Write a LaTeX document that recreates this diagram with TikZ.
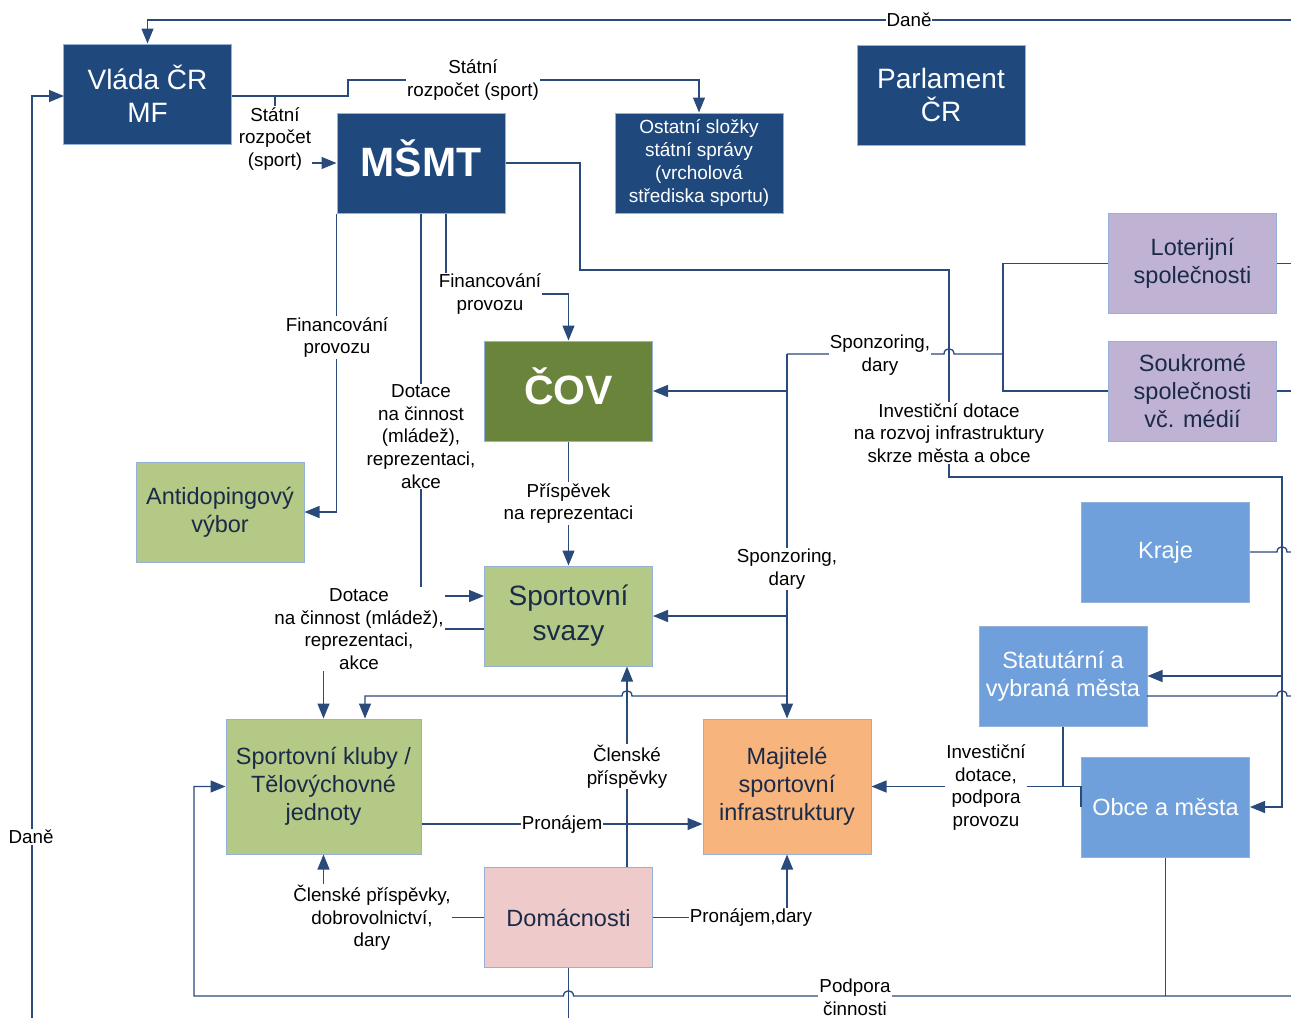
\documentclass[tikz,border=0pt]{standalone}
\usepackage{fontspec}
\setmainfont{Liberation Sans}
\usetikzlibrary{arrows.meta}
\definecolor{govblue}{HTML}{1F497D}
\definecolor{covgreen}{HTML}{6B843B}
\definecolor{sportgreen}{HTML}{B4C986}
\definecolor{firmpurple}{HTML}{BFB2D3}
\definecolor{cityblue}{HTML}{70A0DB}
\definecolor{ownorange}{HTML}{F7B47C}
\definecolor{housepink}{HTML}{EECBCA}
\definecolor{boxedge}{HTML}{95B1D9}
\definecolor{flowline}{HTML}{2A4A7C}
\definecolor{darktext}{HTML}{1B2A48}
\tikzstyle{box}=[draw=boxedge, line width=1pt, minimum width=168pt, minimum height=100pt, align=center, inner sep=2pt]
\tikzstyle{gov}=[box, fill=govblue, text=white, font=\fontsize{28}{33}\selectfont]
\tikzstyle{cov}=[box, fill=covgreen, text=white, font=\fontsize{41}{48}\selectfont\bfseries, text height=30pt, text depth=3pt]
\tikzstyle{sport}=[box, fill=sportgreen, text=darktext, font=\fontsize{23.5}{28}\selectfont]
\tikzstyle{firm}=[box, fill=firmpurple, text=darktext, font=\fontsize{23.5}{28}\selectfont]
\tikzstyle{city}=[box, fill=cityblue, text=white, font=\fontsize{23.5}{28}\selectfont]
\tikzstyle{owner}=[box, fill=ownorange, text=darktext, font=\fontsize{23.5}{28}\selectfont]
\tikzstyle{house}=[box, fill=housepink, text=darktext, font=\fontsize{23.5}{28}\selectfont]
\tikzstyle{conn}=[draw=flowline, line width=1.3pt]
\tikzstyle{flow}=[conn, -{Triangle[length=15pt,width=12pt]}]
\tikzstyle{lbl}=[fill=white, align=center, inner sep=1pt, font=\fontsize{18.8}{22.7}\selectfont]
% line jumps over a crossing line
\tikzset{hopl/.style={insert path={-- ([xshift=5pt]#1) .. controls ([xshift=5pt,yshift=7pt]#1) and ([xshift=-5pt,yshift=7pt]#1) .. ([xshift=-5pt]#1)}},
 hopr/.style={insert path={-- ([xshift=-5pt]#1) .. controls ([xshift=-5pt,yshift=7pt]#1) and ([xshift=5pt,yshift=7pt]#1) .. ([xshift=5pt]#1)}}}

\begin{document}
\begin{tikzpicture}[x=1pt,y=-1pt]
	\useasboundingbox (0,0) rectangle (1291,1018);

		% State
		\node[gov] (vlada) at (147.5,94) {Vláda ČR\\MF};
		\node[gov] (parlament) at (941,95) {Parlament\\ČR};
		\node[gov, font=\fontsize{41}{48}\selectfont\bfseries, text height=30pt, text depth=3pt] (msmt) at (421,163) {MŠMT};
		\node[gov, font=\fontsize{19}{22.7}\selectfont] (ostatni) at (699,163) {Ostatní složky\\státní správy\\(vrcholová\\střediska sportu)};
		% Companies
		\node[firm] (loterie) at (1192.5,263.5) {Loterijní\\společnosti};
		\node[firm] (soukrome) at (1192.5,391) {Soukromé\\společnosti\\vč. médií};
		% Sport
		\node[cov] (cov) at (568.5,391) {ČOV};
		\node[sport] (antidoping) at (220,512) {Antidopingový\\výbor};
		\node[sport, font=\fontsize{28}{35}\selectfont] (svazy) at (568.5,616) {Sportovní\\svazy};
		\node[sport, minimum width=195pt, minimum height=135pt] (kluby) at (323.5,786.5) {Sportovní kluby /\\Tělovýchovné\\jednoty};
		\node[owner, minimum height=135pt] (majitele) at (787,786.5) {Majitelé\\sportovní\\infrastruktury};
		\node[house] (domacnosti) at (568.5,917.5) {Domácnosti};
		% Regions and towns
		\node[city] (kraje) at (1165.5,552) {Kraje};
		\node[city] (statutarni) at (1063,676) {Statutární a\\vybraná města};
		\node[city] (obce) at (1165.5,807) {Obce a města};

		\node[coordinate] (danetop) at (1291,20) {};
		\node[coordinate] (danebot) at (32,1018) {};
		\node[coordinate] (sr1) at (348,80) {};
		\node[coordinate] (sr2) at (275,96) {};
		\node[coordinate] (inv1) at (580,270) {};
		\node[coordinate] (inv2) at (949,477) {};
		\node[coordinate] (inv3) at (1282,477) {};
		\node[coordinate] (sp1) at (1003,354) {};
		\node[coordinate] (sp2) at (787,354) {};
		\node[coordinate] (sp3) at (787,696) {};
		\node[coordinate] (kl1) at (365,696) {};
		\node[coordinate] (fin) at (568.5,294) {};
		\node[coordinate] (clen) at (627,867) {};
		\node[coordinate] (pod1) at (1291,996) {};
		\node[coordinate] (pod2) at (194,996) {};
		\node[coordinate] (dombot) at (568.5,1018) {};
		\node[coordinate] (st1) at (1147,696) {};
		\node[coordinate] (vl1) at (231.5,96) {};
		\node[coordinate] (vl2) at (64,96) {};

		% Taxes
		\draw[flow] (danetop) -| (vlada.north);
		\draw[flow] (danebot) |- (vl2);
		% State budget
		\draw[flow] (vl1) -| (sr1) -| (ostatni.north);
		\draw[flow] (sr2) |- (msmt.west);
		% Ministry
		\draw[flow] (msmt.south west) |- (antidoping.east);
		\draw[flow] (msmt.south) |- ([yshift=20pt]svazy.west);
		\draw[flow] ([xshift=25pt]msmt.south) |- (fin) -- (cov.north);
		\draw[flow] (msmt.east) -| (inv1) -| (inv2) -- (inv3) |- (statutarni.east);
		\draw[flow] (inv3) |- (obce.east);
		% Sponsoring
		\draw[conn] (loterie.west) -| (sp1);
		\draw[conn] (soukrome.west) -| (sp1);
		\draw[conn] (sp1) [hopl={sp1 -| inv2}] -- (sp2);
		\draw[flow] (sp2) |- (cov.east);
		\draw[flow] (sp2) |- (svazy.east);
		\draw[flow] (sp2) -- (majitele.north);
		\draw[flow] (sp3) [hopl={sp3 -| clen}] -- (kl1) -- (kl1 |- kluby.north);
		% Federations and clubs
		\draw[flow] (cov) -- (svazy);
		\draw[flow] ([yshift=-13pt]svazy.west) -| (kluby.north);
		\draw[flow] ([yshift=-37.5pt]kluby.east) -- ([yshift=-37.5pt]majitele.west);
		% Households
		\draw[flow] (domacnosti.west) -| (kluby.south);
		\draw[flow] (domacnosti.east) -| (majitele.south);
		\draw[flow] (clen) -- (clen |- svazy.south);
		\draw[conn] (domacnosti.south) -- (dombot);
		% Towns
		\draw[flow] (obce.west) |- (majitele.east);
		\draw[conn] (statutarni.south) -- (statutarni.south |- majitele.east);
		\draw[flow] (pod1) [hopl={pod1 -| domacnosti.south}] -- (pod2) |- (kluby.west);
		\draw[conn] (obce.south) -- (obce.south |- pod1);
		% Off to the right
		\draw[conn] (loterie.east) -- (loterie.east -| danetop);
		\draw[conn] (soukrome.east) -- (soukrome.east -| danetop);
		\draw[conn] (kraje.east) [hopr={kraje.east -| inv3}] -- (kraje.east -| danetop);
		\draw[conn] (st1) [hopr={st1 -| inv3}] -- (st1 -| danetop);

		% Labels
		\node[lbl] (ldane1) at (909,20) {Daně};
		\node[lbl] (ldane2) at (31,837) {Daně};
		\node[lbl] (lrozp1) at (473,80) {Státní\\rozpočet (sport)};
		\node[lbl] (lrozp2) at (275,139) {Státní\\rozpočet\\(sport)};
		\node[lbl] (lfin1) at (337,337.5) {Financování\\provozu};
		\node[lbl] (lfin2) at (490,294) {Financování\\provozu};
		\node[lbl] (ldot1) at (421,436.5) {Dotace\\na činnost\\(mládež),\\reprezentaci,\\akce};
		\node[lbl] (ldot2) at (359,629) {Dotace\\na činnost (mládež),\\reprezentaci,\\akce};
		\node[lbl] (lprisp) at (568.5,503.5) {Příspěvek\\na reprezentaci};
		\node[lbl] (lspon1) at (880,355) {Sponzoring,\\dary};
		\node[lbl] (lspon2) at (787,569) {Sponzoring,\\dary};
		\node[lbl] (linv1) at (949,433) {Investiční dotace\\na rozvoj infrastruktury\\skrze města a obce};
		\node[lbl] (linv2) at (986,787.5) {Investiční\\dotace,\\podpora\\provozu};
		\node[lbl] (lclen1) at (627,766.5) {Členské\\příspěvky};
		\node[lbl] (lclen2) at (372,918) {Členské příspěvky,\\dobrovolnictví,\\dary};
		\node[lbl] (lpron1) at (562,825) {Pronájem};
		\node[lbl] (lpron2) at (751,918) {Pronájem,dary};
		\node[lbl] (lpodp) at (855,997) {Podpora\\činnosti};
\end{tikzpicture}
\end{document}
